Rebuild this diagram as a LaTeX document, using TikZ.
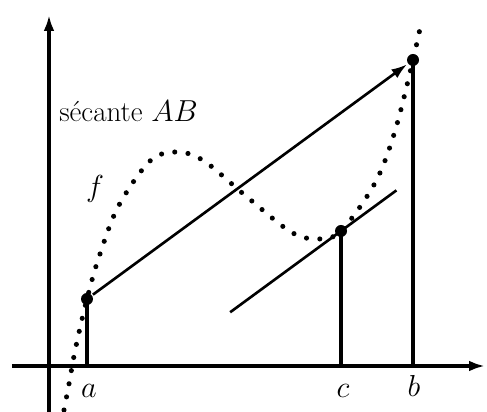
\documentclass[tikz,border=0pt]{standalone}
\usetikzlibrary{arrows.meta,calc}

\begin{document}
\begin{tikzpicture}[>={Latex[length=9pt,width=6pt]},line width=1.5pt,
    font=\fontsize{16.5}{20}\selectfont,
    pt/.style={circle,fill,inner sep=0pt,minimum size=0.24cm},
    fdots/.style={line width=2.9pt,line cap=round,dash pattern=on 0pt off 7.6pt}]
  \useasboundingbox (-0.98,-0.92) rectangle (8.76,7.32);
  % --- axes ---
  \coordinate (O) at (0,0);
  \coordinate (xl) at (-0.74,0);
  \coordinate (xr) at (8.72,0);
  \coordinate (yb) at (0,-0.92);
  \coordinate (yt) at (0,7.02);
  \draw[->,line width=1.8pt] (xl) -- (xr);
  \draw[->,line width=1.8pt] (yb) -- (yt);
  % --- the points A, C, B on f ---
  \node[pt] (A) at (0.76,1.34) {};
  \node[pt] (C) at (5.84,2.70) {};
  \node[pt] (B) at (7.28,6.12) {};
  % --- graph of f (dotted) ---
  \draw[fdots] plot[smooth,tension=0.55] coordinates {
    (0.30,-0.88) (0.40,-0.36) (0.50,0.20) (0.62,0.76) (0.76,1.34)
    (0.98,2.12) (1.38,3.18) (2.02,4.10) (2.56,4.28) (3.10,4.10)
    (3.96,3.38) (4.84,2.68) (5.38,2.54) (5.84,2.70) (6.52,3.66)
    (6.92,4.70) (7.28,6.12) (7.46,6.94)};
  % --- secant AB and parallel tangent at C ---
  \draw[->] (A) -- (B);
  \coordinate (T1) at ($(C)+0.34*(A)-0.34*(B)$);
  \coordinate (T2) at ($(C)+0.17*(B)-0.17*(A)$);
  \draw (T1) -- (T2);
  % --- vertical droplines ---
  \draw[line width=1.8pt] (A.center) -- (A |- O);
  \draw[line width=1.8pt] (C.center) -- (C |- O);
  \draw[line width=1.8pt] (B.center) -- (B |- O);
  % --- labels ---
  \node[anchor=base] (la) at ($(A |- O)+(0.04,-0.63)$) {$a$};
  \node[anchor=base] (lc) at ($(C |- O)+(0.04,-0.63)$) {$c$};
  \node[anchor=base] (lb) at ($(B |- O)+(0.02,-0.62)$) {$b$};
  \node (lf) at (0.92,3.54) {$f$};
  \node[anchor=base west,inner sep=0pt] (lsec) at (0.18,4.88) {sécante $AB$};
\end{tikzpicture}
\end{document}
